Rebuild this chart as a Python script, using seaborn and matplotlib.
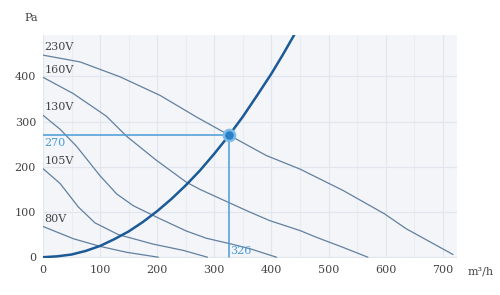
import matplotlib
matplotlib.use("Agg")
import matplotlib.pyplot as plt
from matplotlib.ticker import MultipleLocator
import seaborn as sns
import pandas as pd

# Fan curves
x_230 = [0, 65, 135, 205, 269, 326, 391, 450, 525, 598, 636, 718]
y_230 = [447, 432, 399, 358, 310, 270, 225, 195, 148, 96, 63, 6]
x_160 = [0, 53, 111, 146, 199, 251, 275, 327, 362, 397, 450, 479, 525, 569]
y_160 = [398, 362, 312, 268, 214, 166, 150, 120, 100, 81, 59, 44, 22, 0]
x_130 = [0, 30, 59, 100, 129, 158, 205, 251, 286, 327, 362, 409]
y_130 = [314, 283, 245, 180, 140, 114, 85, 58, 42, 30, 19, 0]
x_105 = [0, 30, 62, 91, 132, 193, 246, 288]
y_105 = [196, 163, 111, 76, 50, 29, 15, 0]
x_80 = [0, 53, 100, 146, 202]
y_80 = [68, 41, 24, 11, 0]
labels = ["230V", "160V", "130V", "105V", "80V"]

# System curve
x_sys = [0, 25, 50, 75, 100, 125, 150, 175, 200, 225, 250, 275, 300, 326, 350, 375, 400, 420, 440]
y_sys = [0, 2, 6, 14, 25, 40, 57, 78, 102, 129, 159, 192, 229, 270, 311, 358, 406, 448, 492]

# Operating point
op_x, op_y = 326, 270

x_ticks = [0, 100, 200, 300, 400, 500, 600, 700]
y_ticks = [0, 100, 200, 300, 400]

sns.set_theme(style="white")
plt.rcParams["font.family"] = ["DejaVu Serif"]

FS = 8
fig = plt.figure(figsize=(5, 2.95), dpi=100)
ax = fig.add_axes([0.086, 0.125, 0.828, 0.757])
ax.set_facecolor("#f3f5f9")
for s in ax.spines.values():
    s.set_visible(False)

ax.set_xlim(0, 725)
ax.set_ylim(-2, 492)
ax.set_xticks(x_ticks)
ax.set_yticks(y_ticks)
ax.xaxis.set_minor_locator(MultipleLocator(50))
ax.grid(True, which="major", color="#e3e6ec", lw=0.9)
ax.grid(True, which="minor", axis="x", color="#e9ecf1", lw=0.8)
ax.set_axisbelow(True)
ax.tick_params(axis="both", which="both", length=0, labelsize=FS, colors="#444444")
ax.tick_params(axis="x", pad=5)
ax.tick_params(axis="y", pad=5)

fan_color = "#62809f"
fans = [(x_230, y_230), (x_160, y_160), (x_130, y_130), (x_105, y_105), (x_80, y_80)]
rows = []
for lab, (xs, ys) in zip(labels, fans):
    for xv, yv in zip(xs, ys):
        rows.append({"q": xv, "p": yv, "fan": lab})
df = pd.DataFrame(rows)
sns.lineplot(data=df, x="q", y="p", units="fan", estimator=None, color=fan_color,
             lw=0.9, ax=ax, sort=False, legend=False)
for lab, (xs, ys) in zip(labels, fans):
    ax.annotate(lab, (xs[0], ys[0]), xytext=(1, 2), textcoords="offset points",
                fontsize=FS, color="#444444", ha="left", va="bottom")

sys_df = pd.DataFrame({"q": x_sys, "p": y_sys})
sns.lineplot(data=sys_df, x="q", y="p", color="#1b5a96", lw=1.8, ax=ax)

op_color = "#4a9bd6"
ax.plot([0, op_x], [op_y, op_y], color=op_color, lw=1.1)
ax.plot([op_x, op_x], [0, op_y], color=op_color, lw=1.1)
ax.plot([op_x], [op_y], marker="o", ms=8, mfc="#2b80c8", mec="#7bbbe8", mew=1.8, zorder=5)
ax.annotate(str(op_y), (0, op_y), xytext=(1, -2), textcoords="offset points",
            fontsize=FS, color=op_color, ha="left", va="top")
ax.annotate(str(op_x), (op_x, 0), xytext=(1, 1), textcoords="offset points",
            fontsize=FS, color=op_color, ha="left", va="bottom")

ax.set_xlabel("")
ax.set_ylabel("")
fig.text(31 / 500, 1 - 18 / 295, "Pa", fontsize=FS, color="#444444", ha="center", va="center")
fig.text(481 / 500, 1 - 271 / 295, "m³/h", fontsize=FS, color="#444444", ha="center", va="center")

fig.savefig("out.png", dpi=100, facecolor="white")
